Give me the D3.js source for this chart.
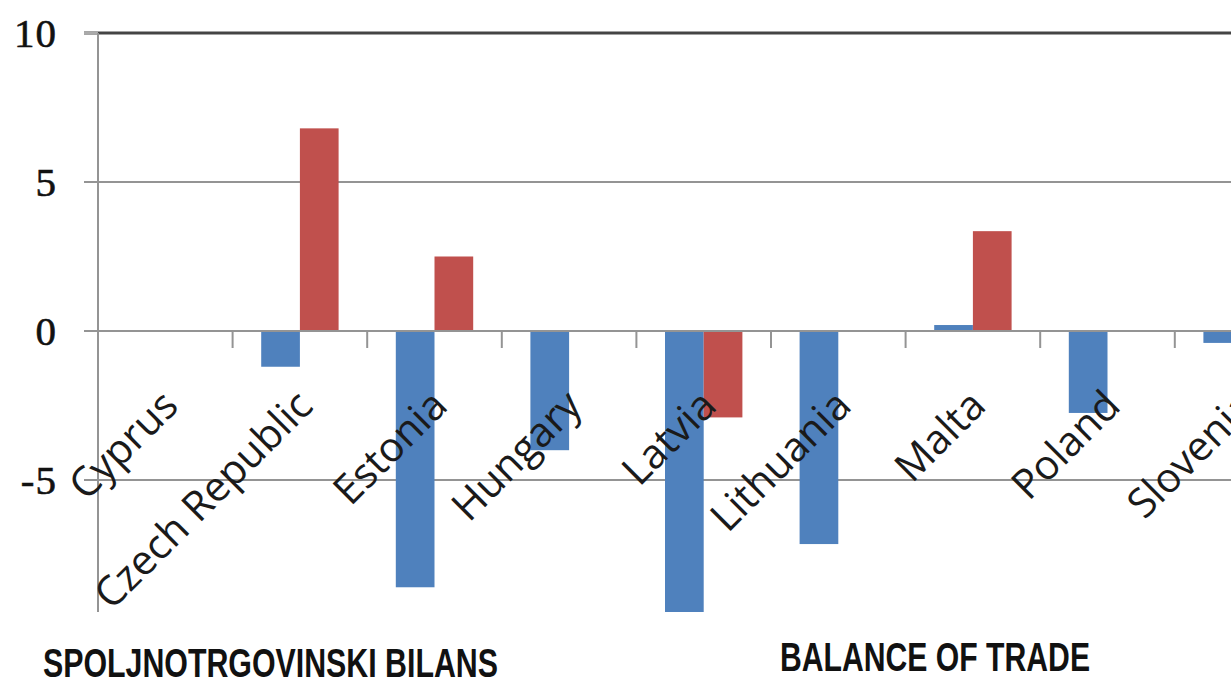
<!DOCTYPE html>
<html>
<head>
<meta charset="utf-8">
<script src="https://cdn.jsdelivr.net/npm/d3@7"></script>
<style>
  html, body { margin: 0; padding: 0; background: #fff; }
  svg { display: block; }
</style>
</head>
<body>
<svg id="chart" width="1231" height="679"></svg>
<script>
// ---- data ----
const categories = ["Cyprus", "Czech Republic", "Estonia", "Hungary", "Latvia", "Lithuania", "Malta", "Poland", "Slovenia"];
const seriesNames = ["Series 1", "Series 2"];
const blueValues = [0, -1.2, -8.6, -4.0, -9.6, -7.15, 0.2, -2.75, -0.4];
const redValues  = [0, 6.8, 2.5, 0, -2.9, 0, 3.35, 0, 0];
const yTicks = [10, 5, 0, -5];
const yTickLabels = ["10", "5", "0", "-5"];
const footerLeft = "SPOLJNOTRGOVINSKI BILANS";
const footerRight = "BALANCE OF TRADE";

// ---- layout ----
const svg = d3.select("#chart");
const W = 1231, H = 679;
const plotLeft = 98, plotTop = 33, plotBottom = 612;
const step = 134.6;
const plotRight = plotLeft + step * categories.length;

const y = d3.scaleLinear().domain([-9.43, 10]).range([plotBottom, plotTop]);
const x = d3.scaleBand().domain(categories).range([plotLeft, plotRight])
  .paddingInner(0.425).paddingOuter(0.2125);
const xs = d3.scaleBand().domain(seriesNames).range([0, x.bandwidth()]);
const colors = d3.scaleOrdinal().domain(seriesNames).range(["#4F81BD", "#C0504D"]);

const rows = categories.map((c, i) => ({ cat: c, vals: [
  { s: seriesNames[0], v: blueValues[i] },
  { s: seriesNames[1], v: redValues[i] }
]}));

svg.append("defs").append("clipPath").attr("id", "plotclip")
  .append("rect").attr("x", plotLeft).attr("y", plotTop)
  .attr("width", W - plotLeft).attr("height", plotBottom - plotTop);

// gridlines
const grid = svg.append("g");
grid.selectAll("line").data(yTicks).enter().append("line")
  .attr("x1", 84).attr("x2", W)
  .attr("y1", d => y(d)).attr("y2", d => y(d))
  .attr("stroke", d => d === 10 ? "#444" : "#949494")
  .attr("stroke-width", d => d === 10 ? 3 : 2);
svg.append("line").attr("x1", 84).attr("x2", plotLeft).attr("y1", y(10)).attr("y2", y(10))
  .attr("stroke", "#aaa").attr("stroke-width", 3);

// bars
const bars = svg.append("g").attr("clip-path", "url(#plotclip)");
bars.selectAll("g").data(rows).enter().append("g")
  .attr("transform", d => `translate(${x(d.cat)},0)`)
  .selectAll("rect").data(d => d.vals.filter(v => v.v !== 0)).enter().append("rect")
  .attr("x", d => xs(d.s))
  .attr("width", xs.bandwidth())
  .attr("y", d => y(Math.max(0, d.v)))
  .attr("height", d => Math.abs(y(d.v) - y(0)))
  .attr("fill", d => colors(d.s));

// zero line on top of bars
svg.append("line").attr("x1", 84).attr("x2", W).attr("y1", y(0)).attr("y2", y(0))
  .attr("stroke", "#949494").attr("stroke-width", 2);

// category tick marks
const bounds = categories.slice(1).map(c => x(c) - x.step() * x.paddingInner() / 2);
svg.append("g").selectAll("line").data(bounds).enter().append("line")
  .attr("x1", d => d).attr("x2", d => d)
  .attr("y1", y(0)).attr("y2", y(0) + 17)
  .attr("stroke", "#949494").attr("stroke-width", 2);

// y axis line
svg.append("line").attr("x1", plotLeft).attr("x2", plotLeft)
  .attr("y1", plotTop).attr("y2", plotBottom)
  .attr("stroke", "#949494").attr("stroke-width", 2);

// y labels
svg.append("g").selectAll("text").data(yTicks).enter().append("text")
  .attr("x", 57).attr("y", d => y(d) + 14)
  .attr("text-anchor", "end")
  .attr("font-family", "'Liberation Serif', 'DejaVu Serif', serif")
  .attr("font-size", 41)
  .attr("letter-spacing", 1)
  .attr("fill", "#111").attr("stroke", "#111").attr("stroke-width", 0.6)
  .text((d, i) => yTickLabels[i]);

// category labels
svg.append("g").selectAll("text").data(categories).enter().append("text")
  .attr("transform", d => `translate(${x(d) + x.bandwidth() / 2 + 15},${y(0) + 77}) rotate(-45)`)
  .attr("text-anchor", "end")
  .attr("font-family", "'Open Sans', 'Noto Sans', sans-serif")
  .attr("font-size", 41)
  .attr("fill", "#1a1a1a")
  .text(d => d);

// footer texts
svg.append("text").attr("x", 43).attr("y", 677)
  .attr("font-family", "'Liberation Sans Narrow', 'Liberation Sans', Arial, sans-serif")
  .attr("font-weight", "bold").attr("font-size", 41)
  .attr("textLength", 455).attr("lengthAdjust", "spacingAndGlyphs")
  .attr("fill", "#111").text(footerLeft);
svg.append("text").attr("x", 780).attr("y", 671)
  .attr("font-family", "'Liberation Sans Narrow', 'Liberation Sans', Arial, sans-serif")
  .attr("font-weight", "bold").attr("font-size", 40)
  .attr("textLength", 310).attr("lengthAdjust", "spacingAndGlyphs")
  .attr("fill", "#111").text(footerRight);
</script>
</body>
</html>
